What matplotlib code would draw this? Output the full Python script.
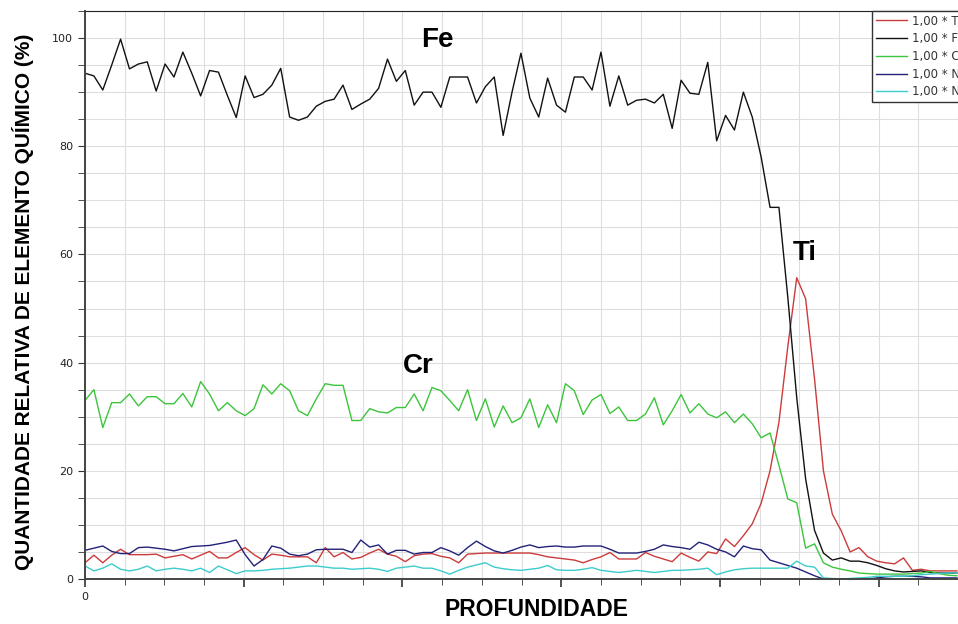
import matplotlib
matplotlib.use("Agg")
import matplotlib.pyplot as plt
from matplotlib.ticker import MultipleLocator, FuncFormatter
import numpy as np

# relative amount (%), one value per sample
ti = [3.0, 4.4, 3.0, 4.4, 5.5, 4.5, 4.5, 4.5, 4.6, 3.9,
      4.2, 4.5, 3.7, 4.4, 5.1, 3.9, 3.9, 4.9, 5.8, 4.5,
      3.5, 4.6, 4.4, 4.1, 4.1, 4.1, 3.0, 5.8, 4.1, 4.9,
      3.7, 4.0, 4.8, 5.5, 4.6, 4.2, 3.2, 4.3, 4.6, 4.7,
      4.2, 3.9, 3.0, 4.6, 4.7, 4.8, 4.8, 4.8, 4.8, 4.8,
      4.8, 4.5, 4.1, 3.9, 3.7, 3.5, 3.0, 3.6, 4.1, 4.9,
      3.7, 3.7, 3.7, 4.9, 4.2, 3.7, 3.2, 4.8, 4.0, 3.3,
      5.0, 4.7, 7.4, 6.0, 8.0, 10.2, 14.0, 20.0, 29.0, 43.0,
      55.7, 51.8, 37.0, 20.0, 12.0, 8.9, 5.0, 5.8, 4.1, 3.3,
      3.0, 2.8, 3.9, 1.6, 1.8, 1.5, 1.5, 1.5, 1.5]
fe = [93.5, 93.0, 90.4, 95.0, 99.8, 94.3, 95.2, 95.6, 90.2, 95.2,
      92.8, 97.4, 93.5, 89.3, 94.0, 93.7, 89.4, 85.3, 93.0, 89.0,
      89.6, 91.3, 94.4, 85.4, 84.8, 85.4, 87.4, 88.3, 88.7, 91.3,
      86.8, 87.8, 88.7, 90.7, 96.1, 92.0, 94.0, 87.6, 90.0, 90.0,
      87.2, 92.8, 92.8, 92.8, 88.0, 91.0, 92.8, 82.0, 90.0, 97.2,
      88.9, 85.4, 92.6, 87.6, 86.3, 92.8, 92.8, 90.4, 97.4, 87.4,
      93.0, 87.6, 88.5, 88.7, 88.0, 89.6, 83.3, 92.2, 89.8, 89.6,
      95.5, 81.0, 85.7, 83.0, 90.0, 85.4, 78.0, 68.7, 68.7, 52.0,
      33.5, 18.5, 9.0, 4.8, 3.5, 3.9, 3.3, 3.3, 3.0, 2.5,
      1.9, 1.5, 1.3, 1.4, 1.5, 1.2, 1.1, 1.1, 1.1]
cr = [33.0, 35.0, 28.0, 32.6, 32.6, 34.2, 32.0, 33.7, 33.7, 32.4,
      32.4, 34.3, 31.8, 36.5, 34.2, 31.1, 32.6, 31.1, 30.2, 31.5,
      35.9, 34.2, 36.1, 34.8, 31.1, 30.2, 33.3, 36.1, 35.8, 35.8,
      29.3, 29.3, 31.5, 30.9, 30.7, 31.7, 31.7, 34.2, 31.1, 35.4,
      34.8, 33.0, 31.1, 35.0, 29.3, 33.3, 28.1, 32.0, 28.9, 29.8,
      33.3, 28.0, 32.2, 28.9, 36.1, 34.8, 30.4, 33.1, 34.1, 30.6,
      31.8, 29.3, 29.3, 30.5, 33.5, 28.5, 31.1, 34.1, 30.7, 32.4,
      30.5, 29.8, 30.9, 28.9, 30.5, 28.7, 26.1, 27.0, 21.0, 14.8,
      14.1, 5.7, 6.5, 3.0, 2.2, 1.8, 1.5, 1.1, 1.0, 0.9,
      0.9, 0.9, 0.9, 1.0, 1.1, 1.4, 1.0, 0.7, 0.6]
ni = [5.3, 5.7, 6.1, 5.1, 4.7, 4.7, 5.8, 5.9, 5.7, 5.5,
      5.2, 5.6, 6.0, 6.1, 6.2, 6.5, 6.8, 7.2, 4.5, 2.4,
      3.6, 6.1, 5.7, 4.6, 4.3, 4.6, 5.4, 5.5, 5.5, 5.5,
      4.9, 7.2, 5.9, 6.3, 4.6, 5.3, 5.3, 4.6, 4.9, 4.9,
      5.8, 5.2, 4.4, 5.8, 7.0, 6.0, 5.2, 4.8, 5.3, 5.9,
      6.3, 5.8, 6.0, 6.1, 5.9, 5.9, 6.1, 6.1, 6.1, 5.5,
      4.8, 4.8, 4.8, 5.1, 5.5, 6.3, 6.0, 5.8, 5.5, 6.8,
      6.3, 5.5, 5.0, 4.1, 6.1, 5.6, 5.4, 3.5, 3.0, 2.5,
      2.0, 1.3, 0.6, 0.0, 0.0, 0.0, 0.0, 0.0, 0.0, 0.2,
      0.4, 0.5, 0.5, 0.5, 0.4, 0.2, 0.2, 0.2, 0.2]
n = [2.4, 1.5, 2.0, 2.8, 1.8, 1.5, 1.8, 2.4, 1.5, 1.8,
     2.0, 1.8, 1.5, 2.0, 1.2, 2.4, 1.7, 1.0, 1.5, 1.5,
     1.6, 1.8, 1.9, 2.0, 2.2, 2.4, 2.4, 2.2, 2.0, 2.0,
     1.8, 1.9, 2.0, 1.8, 1.4, 2.0, 2.2, 2.4, 2.0, 2.0,
     1.5, 0.9, 1.6, 2.2, 2.6, 3.0, 2.2, 1.9, 1.7, 1.6,
     1.8, 2.0, 2.5, 1.7, 1.6, 1.6, 1.8, 2.1, 1.6, 1.4,
     1.2, 1.4, 1.6, 1.4, 1.2, 1.4, 1.6, 1.6, 1.7, 1.8,
     2.0, 0.8, 1.3, 1.7, 1.9, 2.0, 2.0, 2.0, 2.0, 2.0,
     3.3, 2.4, 2.2, 0.2, 0.1, 0.0, 0.1, 0.2, 0.3, 0.5,
     0.5, 0.5, 0.5, 0.6, 0.8, 0.9, 1.0, 1.1, 1.1]

legend_labels = ["1,00 * Ti", "1,00 * Fe", "1,00 * Cr", "1,00 * Ni", "1,00 * N"]
step = 0.2242  # depth step between samples (grid units)
depth = np.arange(len(fe)) * step

fig = plt.figure(figsize=(9.58, 6.24), dpi=100)
ax = fig.add_axes([85 / 958, 45 / 624, 1 - 85 / 958, (579 - 11) / 624])

colors = ["#cc3b3b", "#111111", "#3cc43c", "#22227a", "#3ccccc"]
for vals, c, lab in zip([ti, fe, cr, ni, n], colors, legend_labels):
    ax.plot(depth, vals, color=c, lw=1.0, label=lab)

ax.set_xlim(0, 22)
ax.set_ylim(0, 105)

ax.xaxis.set_major_locator(MultipleLocator(4))
ax.xaxis.set_minor_locator(MultipleLocator(1))
ax.yaxis.set_major_locator(MultipleLocator(20))
ax.yaxis.set_minor_locator(MultipleLocator(5))
ax.xaxis.set_major_formatter(FuncFormatter(lambda v, p: "0" if v == 0 else ""))
ax.grid(True, which="both", color="#dedede", lw=0.8)
ax.set_axisbelow(True)

ax.tick_params(axis="both", which="both", direction="out", colors="#333333",
               labelsize=8, labelcolor="#222222")
ax.tick_params(axis="x", which="major", length=6, width=1.2)
ax.tick_params(axis="x", which="minor", length=4)
ax.tick_params(axis="y", which="both", length=5)

for side in ["left", "bottom"]:
    ax.spines[side].set_color("#444444")
    ax.spines[side].set_linewidth(1.4)
ax.spines["top"].set_color("#222222")
ax.spines["right"].set_visible(False)

bold = {"family": "Liberation Sans", "weight": "bold"}
ax.set_xlabel("PROFUNDIDADE", fontsize=16.5, fontdict=bold)
ax.xaxis.set_label_coords((536 - 85) / 873, -(598 - 579) / 568)
ax.set_ylabel("QUANTIDADE RELATIVA DE ELEMENTO QUÍMICO (%)", fontsize=15, fontdict=bold)
ax.yaxis.set_label_coords(-(85 - 34) / 873, (579 - 302) / 568)

ax.text(8.89, 99.6, "Fe", fontsize=20, ha="center", va="center", **bold)
ax.text(8.39, 39.4, "Cr", fontsize=20, ha="center", va="center", **bold)
ax.text(18.14, 60.2, "Ti", fontsize=20, ha="center", va="center", **bold)

leg = ax.legend(loc="upper left", bbox_to_anchor=(872 / 958, 1 - 11 / 624),
                bbox_transform=fig.transFigure, borderaxespad=0, fontsize=8.5,
                frameon=True, fancybox=False, framealpha=1, handlelength=2.7,
                handletextpad=0.35, labelspacing=0.4, borderpad=0.3)
leg.get_frame().set_edgecolor("#333333")
leg.get_frame().set_linewidth(1.0)
for t in leg.get_texts():
    t.set_color("#333333")

plt.savefig("out.png", dpi=100)
